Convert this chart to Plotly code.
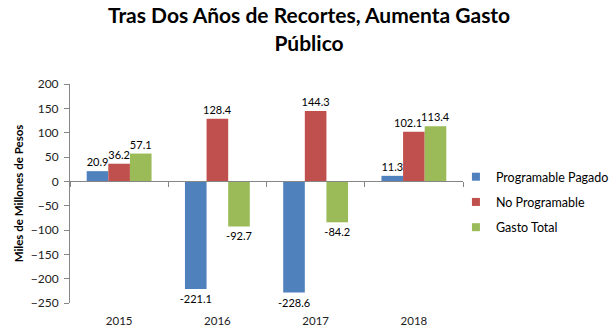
import plotly.graph_objects as go

years = ["2015", "2016", "2017", "2018"]
programable = [20.9, -221.1, -228.6, 11.3]
no_programable = [36.2, 128.4, 144.3, 102.1]
gasto_total = [57.1, -92.7, -84.2, 113.4]
y_ticks = [-250, -200, -150, -100, -50, 0, 50, 100, 150, 200]

series = [
    ("Programable Pagado", programable, "#4F81BD"),
    ("No Programable", no_programable, "#C0504D"),
    ("Gasto Total", gasto_total, "#9BBB59"),
]

# labels nudged sideways (as the original chart does) to avoid a collision
nudged = {(1, 3): -6}

fig = go.Figure()
for i, (name, vals, col) in enumerate(series):
    texts = ["" if (i, j) in nudged else f"{v:.1f}" for j, v in enumerate(vals)]
    fig.add_trace(go.Bar(
        x=years, y=vals, name=name, marker_color=col, marker_line_width=0,
        text=texts, textposition="outside",
        constraintext="none",
        textfont=dict(size=11, color="#000000"), cliponaxis=False,
        showlegend=False, offsetgroup=str(i),
    ))
for i, (name, vals, col) in enumerate(series):
    fig.add_trace(go.Scatter(
        x=[None], y=[None], name=name, mode="markers",
        marker=dict(symbol="square", size=8, color=col),
        legendgroup=f"g{i}",
    ))

# invisible helper trace so the zero-line axis with tick marks gets drawn
fig.add_trace(go.Scatter(x=[0, 3], y=[0, 0], xaxis="x2", mode="markers",
                         marker=dict(opacity=0), showlegend=False, hoverinfo="skip"))

zero_pos = 250 / 450
bar_w = (1 - 0.34) / 3

for (i, j), dx in nudged.items():
    v = series[i][1][j]
    fig.add_annotation(
        x=j + (i - 1) * bar_w, y=v, xref="x2", yref="y",
        text=f"{v:.1f}", showarrow=False, xanchor="center", yanchor="bottom",
        xshift=dx, yshift=1, font=dict(size=11, color="#000000"),
    )

fig.update_layout(
    width=612, height=334,
    margin=dict(l=70, r=149, t=84, b=31, autoexpand=False),
    paper_bgcolor="white", plot_bgcolor="white",
    font=dict(family="Lato, Open Sans, sans-serif", size=12, color="#000000"),
    title=dict(text="<b>Tras Dos Años de Recortes, Aumenta Gasto<br>Público</b>",
               x=0.505, xanchor="center", y=0.93, yanchor="top",
               font=dict(size=21, family="Lato, Open Sans, sans-serif")),
    barmode="group", bargap=0.34, bargroupgap=0,
    xaxis=dict(type="category", showline=False, ticks="", showgrid=False,
               tickfont=dict(size=11.5, color="#222222"), range=[-0.5, 3.5],
               ticklabelstandoff=9),
    xaxis2=dict(overlaying="x", anchor="free", position=zero_pos, side="bottom",
                range=[-0.5, 3.5], showline=True, linecolor="#868686", linewidth=1,
                tickmode="array", tickvals=[-0.5, 0.5, 1.5, 2.5, 3.5],
                ticks="outside", ticklen=5, tickcolor="#868686",
                showticklabels=False, showgrid=False, zeroline=False),
    yaxis=dict(range=[-250, 200], tickmode="array", tickvals=y_ticks,
               showline=True, linecolor="#868686", linewidth=1,
               ticks="outside", ticklen=5, tickcolor="#868686",
               showgrid=False, zeroline=False, tickfont=dict(size=12, color="#222222"),
               ticklabelstandoff=3,
               title=dict(text="<b>Miles de Millones de Pesos</b>",
                          font=dict(size=11.5), standoff=4)),
    legend=dict(xref="container", yref="container", x=0.745, xanchor="left",
                y=0.395, yanchor="middle",
                font=dict(size=12.5), itemwidth=30, tracegroupgap=6,
                traceorder="grouped", bgcolor="rgba(0,0,0,0)"),
)

fig.write_html("out.html")
